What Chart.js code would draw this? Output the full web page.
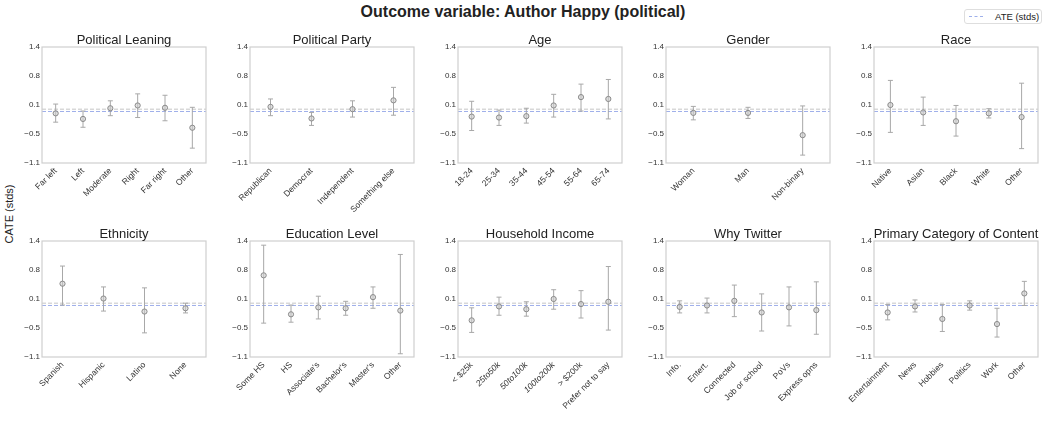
<!DOCTYPE html>
<html>
<head>
<meta charset="utf-8">
<script src="https://cdn.jsdelivr.net/npm/chart.js@4.4.1/dist/chart.umd.min.js"></script>
<style>
  body { margin: 0; background: #fff; width: 1046px; height: 421px; overflow: hidden; position: relative;
         font-family: "Liberation Sans", Arial, sans-serif; color: #222; }
  canvas { position: absolute; }
  #suptitle { position: absolute; left: 0; top: 3px; width: 1046px; text-align: center;
              font-weight: bold; font-size: 16px; line-height: 18px; }
  #ylabel { position: absolute; left: -41px; top: 207px; width: 100px; text-align: center;
            font-size: 11px; line-height: 14px; transform: rotate(-90deg); }
  #legend { position: absolute; left: 964px; top: 9px; width: 78px; height: 15px; box-sizing: border-box;
            border: 1px solid #dedede; border-radius: 3px; font-size: 9.5px; line-height: 13px; }
  #legend .dash { position: absolute; left: 4px; top: 6px; width: 14px; border-top: 1px dashed #9fb0ea; }
  #legend .txt { position: absolute; left: 30px; top: 0; }
</style>
</head>
<body>
<div id="suptitle">Outcome variable: Author Happy (political)</div>
<div id="legend"><span class="dash"></span><span class="txt">ATE (stds)</span></div>
<div id="ylabel">CATE (stds)</div>
<script>
// y axis
const yMin = -1.1;
const yMax = 1.4;
const yTickLabels = ['\u22121.1', '\u22120.5', '0.1', '0.8', '1.4'];

// reference lines
const ateValue = 0.01;
const refValue = 0.06;

const panelTitles = ['Political Leaning', 'Political Party', 'Age', 'Gender', 'Race',
    'Ethnicity', 'Education Level', 'Household Income', 'Why Twitter', 'Primary Category of Content'];

const leaningCats = ['Far left', 'Left', 'Moderate', 'Right', 'Far right', 'Other'];
const leaningCate = [-0.03, -0.15, 0.08, 0.14, 0.09, -0.34];
const leaningLow = [-0.22, -0.33, -0.08, -0.12, -0.19, -0.78];
const leaningHigh = [0.17, 0.02, 0.24, 0.39, 0.36, 0.10];

const partyCats = ['Republican', 'Democrat', 'Independent', 'Something else'];
const partyCate = [0.11, -0.14, 0.06, 0.25];
const partyLow = [-0.08, -0.29, -0.11, -0.07];
const partyHigh = [0.28, -0.01, 0.24, 0.53];

const ageCats = ['18-24', '25-34', '35-44', '45-54', '55-64', '65-74'];
const ageCate = [-0.10, -0.12, -0.09, 0.14, 0.32, 0.28];
const ageLow = [-0.40, -0.29, -0.24, -0.11, 0.02, -0.15];
const ageHigh = [0.23, 0.04, 0.08, 0.38, 0.60, 0.70];

const genderCats = ['Woman', 'Man', 'Non-binary'];
const genderCate = [-0.02, -0.02, -0.50];
const genderLow = [-0.17, -0.14, -0.93];
const genderHigh = [0.12, 0.10, 0.13];

const raceCats = ['Native', 'Asian', 'Black', 'White', 'Other'];
const raceCate = [0.15, -0.01, -0.20, -0.03, -0.11];
const raceLow = [-0.44, -0.29, -0.52, -0.13, -0.79];
const raceHigh = [0.68, 0.32, 0.14, 0.07, 0.62];

const ethnicityCats = ['Spanish', 'Hispanic', 'Latino', 'None'];
const ethnicityCate = [0.48, 0.16, -0.12, -0.05];
const ethnicityLow = [0.02, -0.11, -0.58, -0.15];
const ethnicityHigh = [0.86, 0.41, 0.39, 0.06];

const educationCats = ['Some HS', 'HS', "Associate's", "Bachelor's", "Master's", 'Other'];
const educationCate = [0.66, -0.18, -0.03, -0.05, 0.19, -0.10];
const educationLow = [-0.37, -0.35, -0.28, -0.20, -0.05, -1.03];
const educationHigh = [1.31, 0.02, 0.21, 0.10, 0.41, 1.11];

const incomeCats = ['< $25k', '25to50k', '50to100k', '100to200k', '> $200k', 'Prefer not to say'];
const incomeCate = [-0.31, -0.01, -0.07, 0.15, 0.04, 0.09];
const incomeLow = [-0.57, -0.20, -0.22, -0.07, -0.26, -0.52];
const incomeHigh = [-0.04, 0.19, 0.09, 0.35, 0.33, 0.85];

const twitterCats = ['Info.', 'Entert.', 'Connected', 'Job or school', 'PoVs', 'Express opns'];
const twitterCate = [-0.02, 0.01, 0.11, -0.14, -0.03, -0.09];
const twitterLow = [-0.15, -0.15, -0.23, -0.54, -0.43, -0.61];
const twitterHigh = [0.11, 0.17, 0.45, 0.26, 0.41, 0.52];

const contentCats = ['Entertainment', 'News', 'Hobbies', 'Politics', 'Work', 'Other'];
const contentCate = [-0.14, -0.01, -0.28, 0.01, -0.39, 0.27];
const contentLow = [-0.30, -0.13, -0.55, -0.09, -0.67, 0.01];
const contentHigh = [0.03, 0.13, 0.03, 0.11, -0.05, 0.53];

const panels = [
    [leaningCats, leaningCate, leaningLow, leaningHigh],
    [partyCats, partyCate, partyLow, partyHigh],
    [ageCats, ageCate, ageLow, ageHigh],
    [genderCats, genderCate, genderLow, genderHigh],
    [raceCats, raceCate, raceLow, raceHigh],
    [ethnicityCats, ethnicityCate, ethnicityLow, ethnicityHigh],
    [educationCats, educationCate, educationLow, educationHigh],
    [incomeCats, incomeCate, incomeLow, incomeHigh],
    [twitterCats, twitterCate, twitterLow, twitterHigh],
    [contentCats, contentCate, contentLow, contentHigh]
];

const FONT = '"Liberation Sans", Arial, sans-serif';

// error bars, reference lines, frame and panel title
const panelDecor = {
    id: 'panelDecor',
    beforeDatasetsDraw(chart) {
        const { ctx, chartArea: a, scales: { x, y } } = chart;
        ctx.save();
        ctx.lineWidth = 1;
        ctx.setLineDash([4, 2]);
        [[refValue, '#c6c6c6'], [ateValue, '#9fb0ea']].forEach(([v, c]) => {
            const py = y.getPixelForValue(v);
            ctx.strokeStyle = c;
            ctx.beginPath();
            ctx.moveTo(a.left, py);
            ctx.lineTo(a.right, py);
            ctx.stroke();
        });
        ctx.setLineDash([]);

        const ds = chart.data.datasets[0];
        ctx.strokeStyle = '#a8a8a8';
        ds.low.forEach((lo, i) => {
            const px = x.getPixelForValue(i);
            const y1 = y.getPixelForValue(lo);
            const y2 = y.getPixelForValue(ds.high[i]);
            ctx.beginPath();
            ctx.moveTo(px, y1); ctx.lineTo(px, y2);
            ctx.moveTo(px - 2.5, y1); ctx.lineTo(px + 2.5, y1);
            ctx.moveTo(px - 2.5, y2); ctx.lineTo(px + 2.5, y2);
            ctx.stroke();
        });
        ctx.restore();
    },
    afterDraw(chart, args, opts) {
        const { ctx, chartArea: a } = chart;
        ctx.save();
        ctx.strokeStyle = '#cfcfcf';
        ctx.lineWidth = 1.2;
        ctx.strokeRect(a.left, a.top, a.right - a.left, a.bottom - a.top);
        ctx.fillStyle = '#222';
        ctx.font = '13px ' + FONT;
        ctx.textAlign = 'center';
        ctx.textBaseline = 'middle';
        ctx.fillText(opts.title, (a.left + a.right) / 2, a.top - 7);
        ctx.restore();
    }
};

panels.forEach(([cats, cate, low, high], i) => {
    const col = i % 5;
    const row = Math.floor(i / 5);
    const boxLeft = 42 + col * 208;
    const boxTop = row ? 241 : 47;

    const canvas = document.createElement('canvas');
    canvas.width = 264;
    canvas.height = 216;
    canvas.style.left = (boxLeft - 80) + 'px';
    canvas.style.top = (boxTop - 30) + 'px';
    document.body.appendChild(canvas);

    new Chart(canvas.getContext('2d'), {
        type: 'line',
        data: {
            labels: cats,
            datasets: [{
                data: cate,
                low: low,
                high: high,
                showLine: false,
                pointRadius: 2.6,
                pointBorderWidth: 1,
                pointBorderColor: '#8a8a8a',
                pointBackgroundColor: 'rgba(205,205,205,0.6)'
            }]
        },
        options: {
            responsive: false,
            animation: false,
            layout: { padding: { top: 30, right: 20, left: 0, bottom: 0 } },
            plugins: {
                legend: { display: false },
                tooltip: { enabled: false },
                panelDecor: { title: panelTitles[i] }
            },
            scales: {
                x: {
                    type: 'category',
                    offset: true,
                    grid: { display: false, drawTicks: false, tickLength: 0 },
                    border: { display: false },
                    ticks: {
                        autoSkip: false,
                        minRotation: 45,
                        maxRotation: 45,
                        padding: 3,
                        color: '#333',
                        font: (c) => ({
                            size: 8.5,
                            family: FONT,
                            style: /\dto\d/.test(cats[c.index] || '') ? 'italic' : 'normal'
                        })
                    },
                    afterFit: (s) => { s.height = 70; s.paddingLeft = 0; s.paddingRight = 0; }
                },
                y: {
                    min: yMin,
                    max: yMax,
                    grid: { display: false, drawTicks: false, tickLength: 0 },
                    border: { display: false },
                    afterBuildTicks: (s) => {
                        s.ticks = yTickLabels.map((_, k) => ({ value: yMin + k * (yMax - yMin) / (yTickLabels.length - 1) }));
                    },
                    ticks: {
                        callback: (v, k) => yTickLabels[k],
                        padding: 2,
                        color: '#333',
                        font: { size: 8, family: FONT }
                    },
                    afterFit: (s) => { s.width = 80; s.paddingTop = 0; s.paddingBottom = 0; }
                }
            }
        },
        plugins: [panelDecor]
    });
});
</script>
</body>
</html>
